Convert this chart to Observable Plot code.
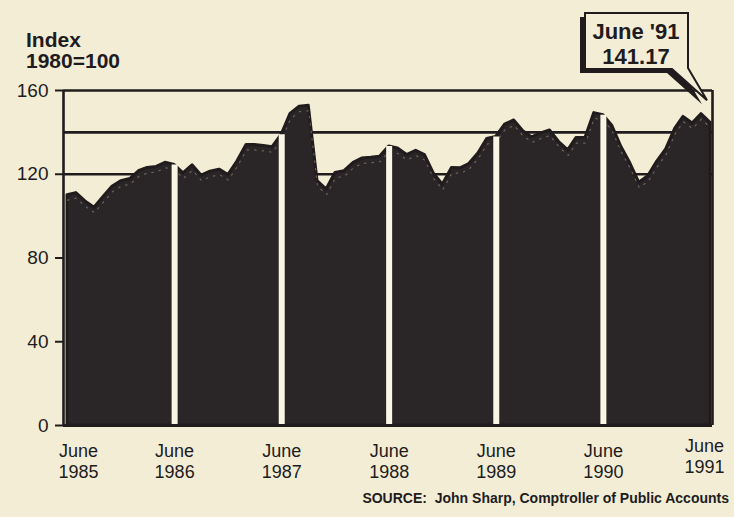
<!DOCTYPE html>
<html><head><meta charset="utf-8">
<script src="https://cdn.jsdelivr.net/npm/d3@7"></script>
<script src="https://cdn.jsdelivr.net/npm/@observablehq/plot@0.6"></script>
<style>
body{margin:0;background:#f4edd6;}
#chart{width:734px;height:517px;overflow:hidden;}
svg{font-family:"Liberation Sans",Arial,sans-serif;}
</style></head><body>
<div id="chart"></div>
<script>
// Monthly index, June 1985 .. June 1991 (1980=100)
const startYear = 1985, startMonth = 5; // June
const indexValues = [110,111,107,104,109,114,116.7,117.7,121.6,123,
  123.5,125.5,124.4,120.4,124.3,119.3,121.2,122.2,119.6,126.1,
  134,134,133.5,132.9,138.9,148.8,152.3,152.7,116.7,112.7,
  120.6,121.5,125.5,127.5,127.9,128.4,133.3,132.3,129.2,131.2,
  129.1,120.1,115,123,122.9,124.9,129.9,136.8,137.8,143.7,
  145.7,140.6,137.6,139.5,140.9,135.4,131.4,137.3,137.3,149.2,
  148.2,143.2,133.1,125.1,116,119,125.9,131.9,141.8,147.4,
  144.2,148.7,144.6];
const yTicks = [0, 40, 80, 120, 160];
const gridLines = [120, 140, 160];
const labelYears = [1985, 1986, 1987, 1988, 1989, 1990, 1991];
const titleLines = ["Index", "1980=100"];
const calloutLines = ["June '91", "141.17"];
const sourceText = "SOURCE:\u00a0 John Sharp, Comptroller of Public Accounts";

const data = indexValues.map((v, i) => ({date: new Date(Date.UTC(startYear, startMonth + i, 1)), value: v}));
const first = data[0], last = data[data.length - 1];
const gaps = data.filter(d => d.date.getUTCMonth() === startMonth && d !== first && d !== last);
const labels = labelYears.map(y => ({date: new Date(Date.UTC(y, startMonth, 1)), label: `June\n${y}`}));
const ink = "#201c1d";

const plot = Plot.plot({
  width: 734, height: 517,
  marginTop: 90, marginBottom: 92, marginLeft: 63, marginRight: 22,
  insetLeft: 4, insetRight: 2,
  style: {background: "transparent", color: ink},
  x: {type: "utc", domain: [first.date, last.date], axis: null},
  y: {domain: [0, 160], axis: null},
  marks: [
    Plot.ruleY(gridLines, {stroke: ink, strokeWidth: 2.6}),
    Plot.ruleX([first], {x: "date", y1: 0, y2: 160, dx: -4, stroke: ink, strokeWidth: 2.6}),
    Plot.ruleX([last], {x: "date", y1: 0, y2: 160, dx: 2, stroke: ink, strokeWidth: 2.6}),
    Plot.areaY(data, {x: "date", y: "value", fill: "#2a2526", stroke: ink, strokeWidth: 3, strokeLinejoin: "round"}),
    Plot.lineY(data, {x: "date", y: "value", dy: 5, stroke: "#cfc6ad", strokeWidth: 1.2, strokeDasharray: "1.5 6", opacity: 0.4}),
    Plot.ruleX(gaps, {x: "date", y1: 0, y2: "value", stroke: "#faf6e6", strokeWidth: 6}),
    Plot.ruleY([0], {stroke: ink, strokeWidth: 3}),
    Plot.axisY(yTicks, {label: null, tickSize: 8, tickPadding: 7, fontSize: 19, stroke: ink, strokeWidth: 2}),
    Plot.text(labels.slice(1, -1), {x: "date", text: "label", frameAnchor: "bottom", lineAnchor: "top", dy: 16, fontSize: 18, lineHeight: 1.2, fill: ink}),
    Plot.text(labels.slice(0, 1), {x: "date", text: "label", frameAnchor: "bottom", lineAnchor: "top", dy: 16, dx: 11, fontSize: 18, lineHeight: 1.2, fill: ink}),
    Plot.text(labels.slice(-1), {x: "date", text: "label", frameAnchor: "bottom", lineAnchor: "top", dy: 11, dx: -6, fontSize: 18, lineHeight: 1.2, fill: ink})
  ]
});
document.getElementById("chart").appendChild(plot);

const svg = d3.select(plot);
const xs = plot.scale("x"), ys = plot.scale("y");

// Title
svg.append("text").attr("x", 26).attr("y", 47).attr("text-anchor", "start").attr("font-size", 21).attr("font-weight", "bold").attr("fill", ink).text(titleLines[0]);
svg.append("text").attr("x", 26).attr("y", 68).attr("text-anchor", "start").attr("font-size", 21).attr("font-weight", "bold").attr("fill", ink).text(titleLines[1]);

// Callout pointing at the last point
const tipX = xs.apply(last.date) - 3, tipY = ys.apply(last.value) - 22;
const bx0 = 585, bx1 = 688, by0 = 13, by1 = 69;
const path = `M${bx0},${by0}L${bx1},${by0}L${bx1},${by1 - 1}L${tipX},${tipY}L${bx1 - 16},${by1}L${bx0},${by1}Z`;
svg.append("path").attr("d", path).attr("transform", "translate(-5,4)").attr("fill", ink);
svg.append("path").attr("d", path).attr("fill", "#f4edd6").attr("stroke", ink).attr("stroke-width", 2).attr("stroke-linejoin", "miter");
svg.append("text").attr("x", 636).attr("y", 39).attr("text-anchor", "middle").attr("font-size", 22).attr("font-weight", "bold").attr("fill", ink).text(calloutLines[0]);
svg.append("text").attr("x", 636).attr("y", 64).attr("text-anchor", "middle").attr("font-size", 22).attr("font-weight", "bold").attr("fill", ink).text(calloutLines[1]);

// Source
svg.append("text").attr("x", 729).attr("y", 503).attr("text-anchor", "end")
  .attr("font-size", 14).attr("font-weight", "bold").attr("fill", ink).text(sourceText);
</script>
</body></html>
